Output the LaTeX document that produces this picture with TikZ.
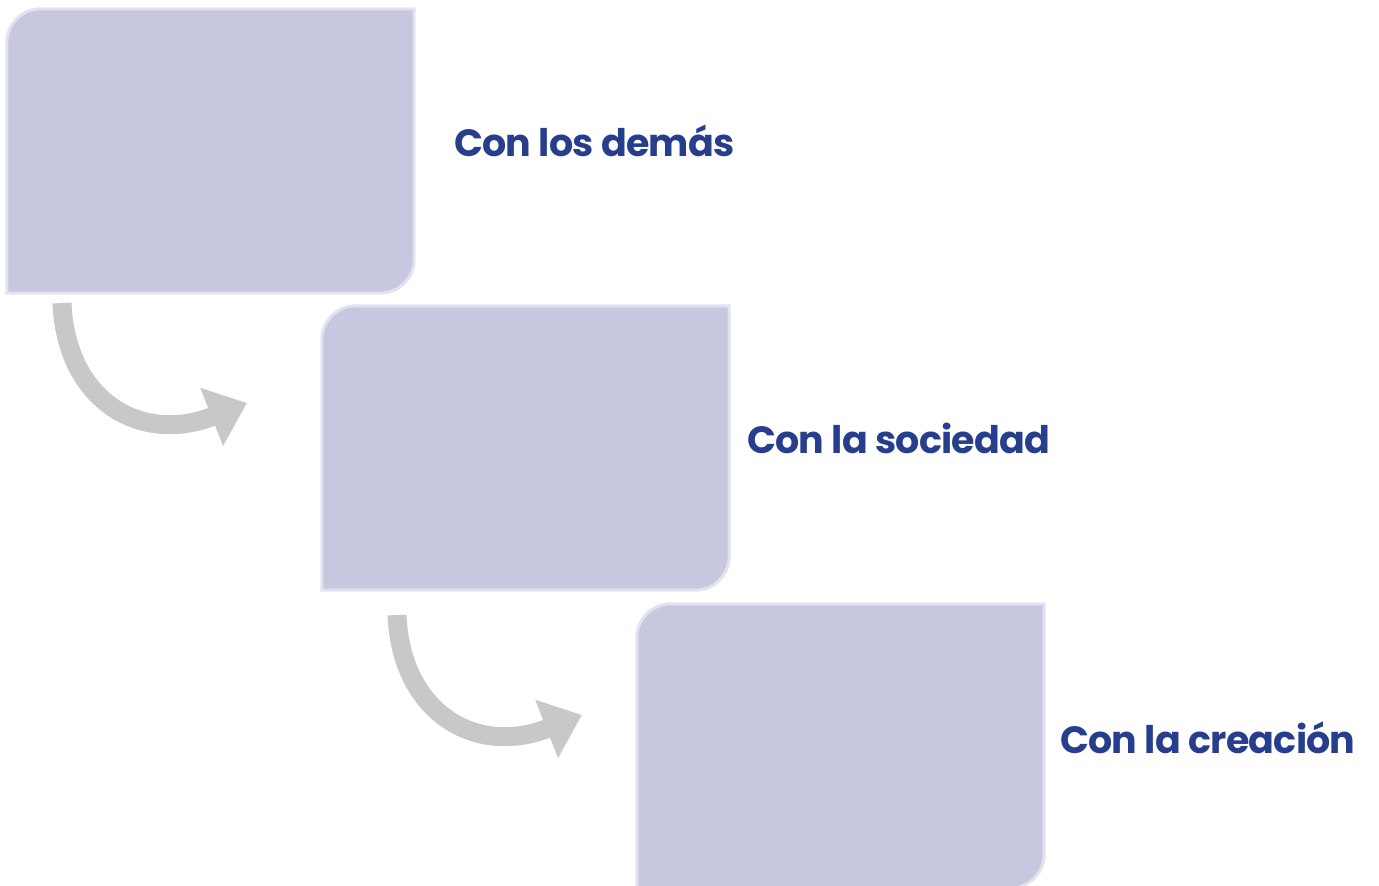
\documentclass[tikz,border=0pt]{standalone}
\usepackage{fontspec}
\setmainfont{Poppins}[LetterSpace=-2]
\usetikzlibrary{arrows.meta}

\definecolor{cajafondo}{HTML}{C7C8E0}
\definecolor{cajaborde}{HTML}{E2E3F1}
\definecolor{flechagris}{HTML}{C8C8C8}
\definecolor{textoazul}{HTML}{273E8D}

\tikzset{
    caja/.style={minimum width=407pt, minimum height=284pt, inner sep=0pt},
    cajalinea/.style={fill=cajafondo, draw=cajaborde, line width=3pt},
    flecha/.style={flechagris, line width=19pt, -{Triangle[length=38pt, width=60pt]}},
    etiqueta/.style={anchor=base west, inner sep=0pt, text=textoazul, font=\fontsize{38}{46}\selectfont\bfseries}
}

\newcommand{\dibujacaja}[1]{%
    \path[cajalinea] (#1.west) [rounded corners=34pt] -- (#1.north west) [sharp corners] -- (#1.north east)
        [rounded corners=34pt] -- (#1.south east) [sharp corners] -- (#1.south west) -- cycle;}

\begin{document}
\begin{tikzpicture}[x=1pt, y=-1pt]
    \useasboundingbox (0,0) rectangle (1379,886);
    \node [caja] (c1) at (210.5,151) {};
    \node [caja] (c2) at (525.5,448) {};
    \node [caja] (c3) at (840.5,746) {};
    \dibujacaja{c1}
    \dibujacaja{c2}
    \dibujacaja{c3}
    \coordinate (f1a) at (62,303);
    \coordinate (f1b) at (247,403);
    \coordinate (f2a) at (397,615);
    \coordinate (f2b) at (582,715);
    \draw [flecha] (f1a) .. controls (66,400) and (140,445) .. (f1b);
    \draw [flecha] (f2a) .. controls (401,712) and (475,757) .. (f2b);
    \node [etiqueta] (t1) at (454,156) {Con los demás};
    \node [etiqueta] (t2) at (747,453) {Con la sociedad};
    \node [etiqueta] (t3) at (1060,753) {Con la creación};
\end{tikzpicture}
\end{document}
